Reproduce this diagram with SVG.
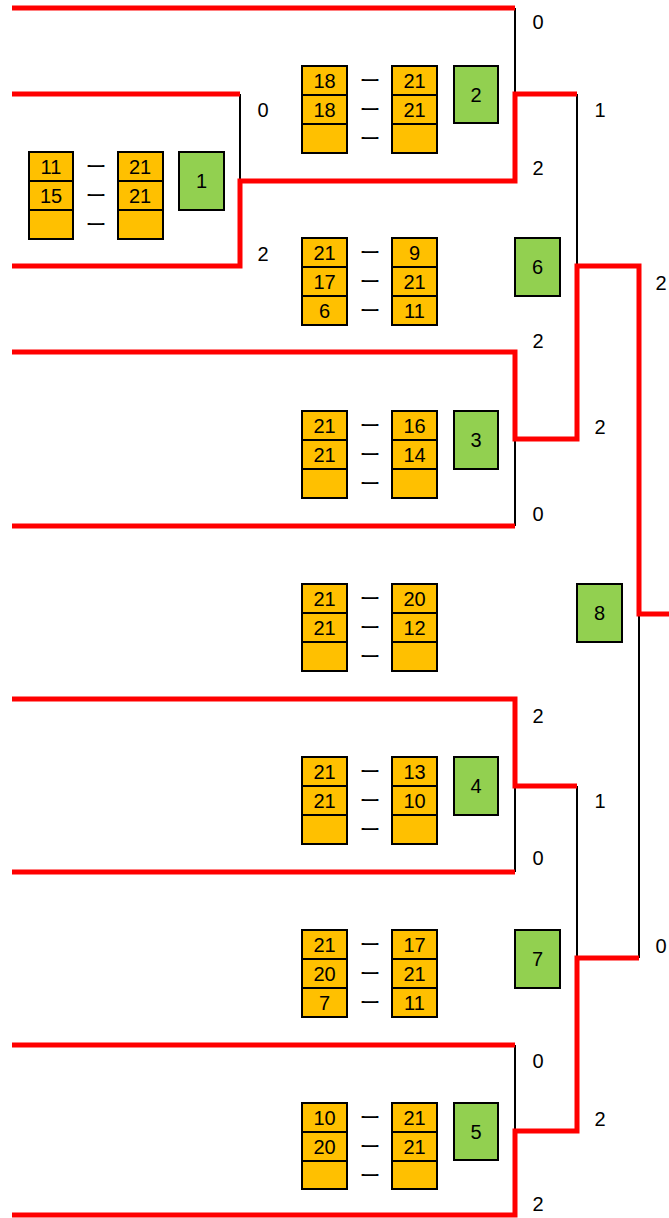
<svg xmlns="http://www.w3.org/2000/svg" width="669" height="1218" viewBox="0 0 669 1218">
<style>
.c{fill:#FFC000;stroke:#000;stroke-width:2}
.g{fill:#92D050;stroke:#000;stroke-width:2}
text{font-family:"Liberation Sans","Noto Sans CJK JP",sans-serif;font-size:20px;fill:#000;text-anchor:middle}
.d{font-family:"Noto Sans CJK JP",sans-serif;font-size:21px}
.r{fill:none;stroke:#FF0000;stroke-width:5}
.k{fill:none;stroke:#000;stroke-width:2}
</style>
<rect width="669" height="1218" fill="#fff"/>
<g id="connectors">
<path class="k" d="M240,94V181M515,8V94M577,94V266M515,439V526M639,614V958M515,786V872M577,786V958M515,1045V1131"/>
<path class="r" d="M12,8H515M12,94H240M12,266H240V181H515V94H577M12,352H515V439H577V266H639V614H669M12,526H515M12,699H515V786H577M12,872H515M12,1045H515M12,1215H515V1131H577V958H639"/>
</g>
<g id="set-counts">
<text x="263" y="117">0</text>
<text x="263" y="261">2</text>
<text x="538" y="29">0</text>
<text x="538" y="175">2</text>
<text x="600" y="117">1</text>
<text x="661" y="290">2</text>
<text x="538" y="348">2</text>
<text x="600" y="434">2</text>
<text x="538" y="521">0</text>
<text x="538" y="723">2</text>
<text x="600" y="808">1</text>
<text x="538" y="865">0</text>
<text x="661" y="953">0</text>
<text x="538" y="1068">0</text>
<text x="600" y="1126">2</text>
<text x="538" y="1211">2</text>
</g>
<g id="match1">
<rect class="c" x="29" y="152" width="44" height="29"/><rect class="c" x="29" y="181" width="44" height="29"/><rect class="c" x="29" y="210" width="44" height="29"/>
<rect class="c" x="118" y="152" width="45" height="29"/><rect class="c" x="118" y="181" width="45" height="29"/><rect class="c" x="118" y="210" width="45" height="29"/>
<text x="51" y="174">11</text><text x="140" y="174">21</text>
<text x="51" y="203">15</text><text x="140" y="203">21</text>
<text class="d" x="96" y="174">ー</text><text class="d" x="96" y="203">ー</text><text class="d" x="96" y="232">ー</text>
<rect class="g" x="179" y="152" width="45" height="58"/><text x="201.5" y="188">1</text>
</g>
<g id="match2">
<rect class="c" x="302" y="66" width="45" height="29"/><rect class="c" x="302" y="95" width="45" height="29"/><rect class="c" x="302" y="124" width="45" height="29"/>
<rect class="c" x="392" y="66" width="45" height="29"/><rect class="c" x="392" y="95" width="45" height="29"/><rect class="c" x="392" y="124" width="45" height="29"/>
<text x="324.5" y="88">18</text><text x="414.5" y="88">21</text>
<text x="324.5" y="117">18</text><text x="414.5" y="117">21</text>
<text class="d" x="370" y="88">ー</text><text class="d" x="370" y="117">ー</text><text class="d" x="370" y="146">ー</text>
<rect class="g" x="454" y="66" width="44" height="57"/><text x="476" y="102">2</text>
</g>
<g id="match6">
<rect class="c" x="302" y="238" width="45" height="29"/><rect class="c" x="302" y="267" width="45" height="29"/><rect class="c" x="302" y="296" width="45" height="29"/>
<rect class="c" x="392" y="238" width="45" height="29"/><rect class="c" x="392" y="267" width="45" height="29"/><rect class="c" x="392" y="296" width="45" height="29"/>
<text x="324.5" y="260">21</text><text x="414.5" y="260">9</text>
<text x="324.5" y="289">17</text><text x="414.5" y="289">21</text>
<text x="324.5" y="318">6</text><text x="414.5" y="318">11</text>
<text class="d" x="370" y="260">ー</text><text class="d" x="370" y="289">ー</text><text class="d" x="370" y="318">ー</text>
<rect class="g" x="515" y="238" width="45" height="58"/><text x="537.5" y="274">6</text>
</g>
<g id="match3">
<rect class="c" x="302" y="411" width="45" height="29"/><rect class="c" x="302" y="440" width="45" height="29"/><rect class="c" x="302" y="469" width="45" height="29"/>
<rect class="c" x="392" y="411" width="45" height="29"/><rect class="c" x="392" y="440" width="45" height="29"/><rect class="c" x="392" y="469" width="45" height="29"/>
<text x="324.5" y="433">21</text><text x="414.5" y="433">16</text>
<text x="324.5" y="462">21</text><text x="414.5" y="462">14</text>
<text class="d" x="370" y="433">ー</text><text class="d" x="370" y="462">ー</text><text class="d" x="370" y="491">ー</text>
<rect class="g" x="454" y="411" width="44" height="58"/><text x="476" y="447">3</text>
</g>
<g id="match8">
<rect class="c" x="302" y="584" width="45" height="29"/><rect class="c" x="302" y="613" width="45" height="29"/><rect class="c" x="302" y="642" width="45" height="29"/>
<rect class="c" x="392" y="584" width="45" height="29"/><rect class="c" x="392" y="613" width="45" height="29"/><rect class="c" x="392" y="642" width="45" height="29"/>
<text x="324.5" y="606">21</text><text x="414.5" y="606">20</text>
<text x="324.5" y="635">21</text><text x="414.5" y="635">12</text>
<text class="d" x="370" y="606">ー</text><text class="d" x="370" y="635">ー</text><text class="d" x="370" y="664">ー</text>
<rect class="g" x="577" y="584" width="45" height="58"/><text x="599.5" y="620">8</text>
</g>
<g id="match4">
<rect class="c" x="302" y="757" width="45" height="29"/><rect class="c" x="302" y="786" width="45" height="29"/><rect class="c" x="302" y="815" width="45" height="29"/>
<rect class="c" x="392" y="757" width="45" height="29"/><rect class="c" x="392" y="786" width="45" height="29"/><rect class="c" x="392" y="815" width="45" height="29"/>
<text x="324.5" y="779">21</text><text x="414.5" y="779">13</text>
<text x="324.5" y="808">21</text><text x="414.5" y="808">10</text>
<text class="d" x="370" y="779">ー</text><text class="d" x="370" y="808">ー</text><text class="d" x="370" y="837">ー</text>
<rect class="g" x="454" y="757" width="44" height="58"/><text x="476" y="793">4</text>
</g>
<g id="match7">
<rect class="c" x="302" y="930" width="45" height="29"/><rect class="c" x="302" y="959" width="45" height="29"/><rect class="c" x="302" y="988" width="45" height="29"/>
<rect class="c" x="392" y="930" width="45" height="29"/><rect class="c" x="392" y="959" width="45" height="29"/><rect class="c" x="392" y="988" width="45" height="29"/>
<text x="324.5" y="952">21</text><text x="414.5" y="952">17</text>
<text x="324.5" y="981">20</text><text x="414.5" y="981">21</text>
<text x="324.5" y="1010">7</text><text x="414.5" y="1010">11</text>
<text class="d" x="370" y="952">ー</text><text class="d" x="370" y="981">ー</text><text class="d" x="370" y="1010">ー</text>
<rect class="g" x="515" y="930" width="45" height="58"/><text x="537.5" y="966">7</text>
</g>
<g id="match5">
<rect class="c" x="302" y="1103" width="45" height="29"/><rect class="c" x="302" y="1132" width="45" height="29"/><rect class="c" x="302" y="1161" width="45" height="28"/>
<rect class="c" x="392" y="1103" width="45" height="29"/><rect class="c" x="392" y="1132" width="45" height="29"/><rect class="c" x="392" y="1161" width="45" height="28"/>
<text x="324.5" y="1125">10</text><text x="414.5" y="1125">21</text>
<text x="324.5" y="1154">20</text><text x="414.5" y="1154">21</text>
<text class="d" x="370" y="1125">ー</text><text class="d" x="370" y="1154">ー</text><text class="d" x="370" y="1183">ー</text>
<rect class="g" x="454" y="1103" width="44" height="57"/><text x="476" y="1139">5</text>
</g>
</svg>
